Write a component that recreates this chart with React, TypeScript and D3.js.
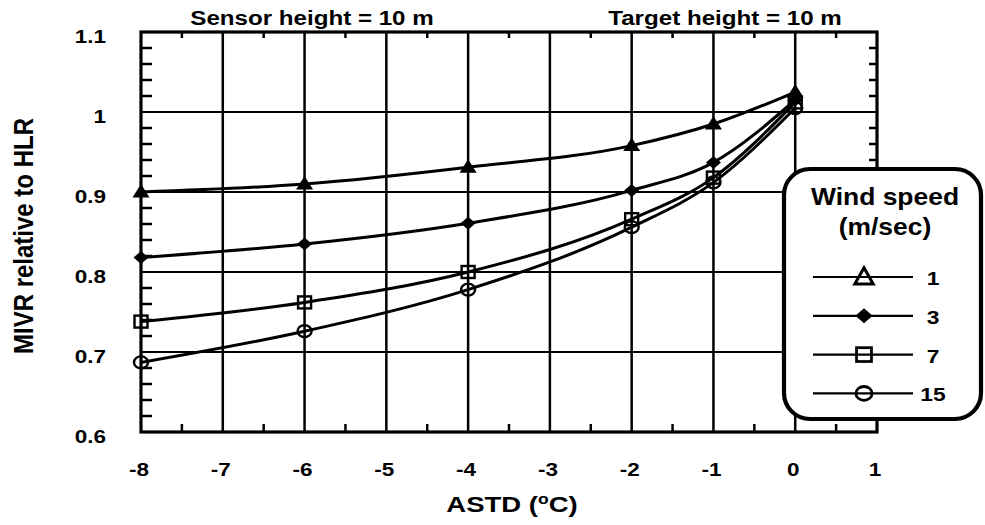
import React from 'react';
import * as d3 from 'd3';

// ASTD values (°C) at which MIVR was evaluated
const astd = [-8, -6, -4, -2, -1, 0];

// MIVR relative to HLR, one array per wind speed (m/sec)
const mivrWind1 = [0.9, 0.91, 0.931, 0.958, 0.985, 1.025];
const mivrWind3 = [0.818, 0.835, 0.861, 0.902, 0.937, 1.015];
const mivrWind7 = [0.738, 0.762, 0.8, 0.866, 0.918, 1.012];
const mivrWind15 = [0.687, 0.726, 0.778, 0.856, 0.912, 1.005];

const windLabels = ['1', '3', '7', '15'];
const markerKinds = ['triangle', 'diamond', 'square', 'circle'];

const xTicks = [-8, -7, -6, -5, -4, -3, -2, -1, 0, 1];
const yTicks = [0.6, 0.7, 0.8, 0.9, 1.0, 1.1];
const yTickLabels = ['0.6', '0.7', '0.8', '0.9', '1', '1.1'];

const seriesList = [mivrWind1, mivrWind3, mivrWind7, mivrWind15].map((vals, i) => ({
  label: windLabels[i],
  kind: markerKinds[i],
  points: astd.map((x, j) => ({ x, y: vals[j] })),
}));

const W = 985;
const H = 525;
const FONT = "'Liberation Sans', Arial, Helvetica, sans-serif";

const x = d3.scaleLinear().domain([-8, 1]).range([141, 877]);
const y = d3.scaleLinear().domain([0.6, 1.1]).range([432, 32]);

const xMinor = d3.range(-7.5, 1, 1);
const yMinor = d3.range(0.62, 1.1, 0.02).filter((v) => Math.abs(v * 10 - Math.round(v * 10)) > 0.05);

function Marker({ kind, cx, cy, s = 1, legend = false }: { kind: string; cx: number; cy: number; s?: number; legend?: boolean }) {
  const t = `translate(${cx},${cy}) scale(${s})`;
  if (kind === 'triangle') {
    return legend ? (
      <path d="M0,-8 L8,6 L-8,6 Z" transform={t} fill="none" stroke="#000" strokeWidth={2.6} strokeLinejoin="miter" />
    ) : (
      <path d="M0,-8 L8.5,5.5 L-8.5,5.5 Z" transform={t} fill="#000" />
    );
  }
  if (kind === 'diamond') {
    return <path d="M0,-6.5 L7.5,0 L0,6.5 L-7.5,0 Z" transform={t} fill="#000" />;
  }
  if (kind === 'square') {
    return <rect x={-6.5} y={-6} width={13} height={12} transform={t} fill="none" stroke="#000" strokeWidth={2.4} />;
  }
  return <ellipse rx={7} ry={6} transform={t} fill="none" stroke="#000" strokeWidth={2.4} />;
}

function SText({
  x: tx,
  y: ty,
  sx = 1.2,
  size,
  anchor = 'middle',
  children,
}: {
  x: number;
  y: number;
  sx?: number;
  size: number;
  anchor?: string;
  children: React.ReactNode;
}) {
  return (
    <text
      transform={`translate(${tx},${ty}) scale(${sx},1)`}
      textAnchor={anchor}
      fontSize={size}
      fontWeight="bold"
      fontFamily={FONT}
      fill="#000"
    >
      {children}
    </text>
  );
}

export default function App() {
  const line = d3
    .line<{ x: number; y: number }>()
    .x((d) => x(d.x))
    .y((d) => y(d.y))
    .curve(d3.curveMonotoneX);

  const left = x(-8);
  const right = x(1);
  const top = y(1.1);
  const bottom = y(0.6);

  const legendRowY = (i: number) => 277 + i * 38.8;

  return (
    <svg
      width={W}
      height={H}
      viewBox={`0 0 ${W} ${H}`}
      style={{ position: 'absolute', left: 0, top: 0, background: '#fff', display: 'block' }}
    >
      <rect x={0} y={0} width={W} height={H} fill="#fff" />

      {/* grid */}
      <g stroke="#000">
        {xTicks.slice(1, -1).map((t) => (
          <line key={`gx${t}`} x1={x(t)} x2={x(t)} y1={top} y2={bottom} strokeWidth={2.5} />
        ))}
        {yTicks.slice(1, -1).map((t) => (
          <line key={`gy${t}`} x1={left} x2={right} y1={y(t)} y2={y(t)} strokeWidth={2} />
        ))}
      </g>

      {/* minor ticks */}
      <g stroke="#000" strokeWidth={2.5}>
        {yMinor.map((v) => (
          <line key={`ml${v}`} x1={left} x2={left + 11} y1={y(v)} y2={y(v)} />
        ))}
        {yMinor.map((v) => (
          <line key={`mr${v}`} x1={right} x2={right - 8} y1={y(v)} y2={y(v)} />
        ))}
        {xMinor.map((v) => (
          <line key={`mt${v}`} x1={x(v)} x2={x(v)} y1={top} y2={top + 6} />
        ))}
        {xMinor.map((v) => (
          <line key={`mb${v}`} x1={x(v)} x2={x(v)} y1={bottom} y2={bottom - 8} />
        ))}
      </g>

      {/* frame */}
      <rect x={left} y={top} width={right - left} height={bottom - top} fill="none" stroke="#000" strokeWidth={3.2} />

      {/* series */}
      <g>
        {seriesList.map((s) => (
          <path key={`l${s.label}`} d={line(s.points) || ''} fill="none" stroke="#000" strokeWidth={3} strokeLinejoin="round" />
        ))}
        {seriesList.map((s) =>
          s.points.map((p, j) => <Marker key={`m${s.label}-${j}`} kind={s.kind} cx={x(p.x)} cy={y(p.y)} />)
        )}
      </g>

      {/* legend */}
      <g>
        <rect x={784} y={169} width={197} height={250} rx={26} ry={26} fill="#fff" stroke="#000" strokeWidth={4.2} />
        <SText x={885} y={205} size={23} sx={1.15}>
          Wind speed
        </SText>
        <SText x={885} y={235} size={23} sx={1.15}>
          (m/sec)
        </SText>
        {seriesList.map((s, i) => (
          <g key={`lg${s.label}`}>
            <line x1={813} x2={913} y1={legendRowY(i)} y2={legendRowY(i)} stroke="#000" strokeWidth={2.2} />
            <Marker kind={s.kind} cx={864} cy={legendRowY(i)} s={1.15} legend />
            <SText x={933} y={legendRowY(i) + 8} size={19} sx={1.2}>
              {s.label}
            </SText>
          </g>
        ))}
      </g>

      {/* tick labels */}
      {xTicks.map((t) => (
        <SText key={`xt${t}`} x={x(t) - 2} y={476} size={18} sx={1.25}>
          {String(t)}
        </SText>
      ))}
      {yTicks.map((t, i) => (
        <SText key={`yt${t}`} x={106} y={y(t) + 11} size={18} sx={1.25} anchor="end">
          {yTickLabels[i]}
        </SText>
      ))}

      {/* titles */}
      <SText x={312} y={25} size={21} sx={1.15}>
        Sensor height = 10 m
      </SText>
      <SText x={725} y={25} size={21} sx={1.15}>
        Target height = 10 m
      </SText>

      <text
        transform="translate(512,512) scale(1.25,1)"
        textAnchor="middle"
        fontSize={22}
        fontWeight="bold"
        fontFamily={FONT}
      >
        ASTD (
        <tspan fontSize={14} dy={-8}>
          o
        </tspan>
        <tspan dy={8}>C)</tspan>
      </text>

      <text
        transform="translate(33,236) rotate(-90) scale(1,1.16)"
        textAnchor="middle"
        fontSize={24}
        fontWeight="bold"
        fontFamily={FONT}
      >
        MIVR relative to HLR
      </text>
    </svg>
  );
}
